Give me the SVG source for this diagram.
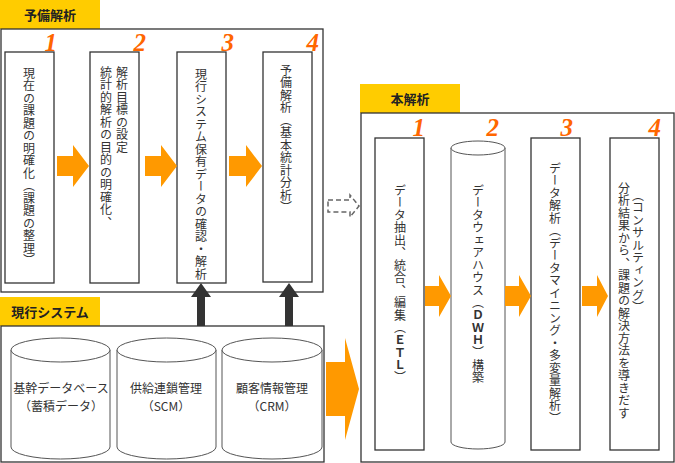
<svg xmlns="http://www.w3.org/2000/svg" width="675" height="463" viewBox="0 0 675 463">
<style>
text{font-family:"Noto Sans CJK JP","Liberation Sans",sans-serif;fill:#333}
.lab{font-size:13px;font-weight:bold;fill:#222}
.tag{fill:#ffcc00}
.frame{fill:#fff;stroke:#333;stroke-width:1.3}
.box{fill:#fff;stroke:#333;stroke-width:1.3}
.num{font-family:"Liberation Serif",serif;font-style:italic;font-weight:bold;font-size:25px;fill:#ff6600}
.v{writing-mode:vertical-rl;font-size:12px;letter-spacing:0.5px}
.cyl{fill:#fff;stroke:#555;stroke-width:1}
.oa{fill:#ff9900}
.h{font-size:12px;text-anchor:middle}
</style>
<g id="prelim">
<rect class="tag" x="0" y="0" width="100" height="29"/>
<text class="lab" x="50" y="20" text-anchor="middle">予備解析</text>
<rect class="frame" x="1" y="29" width="322" height="263"/>
</g>
<g id="main">
<rect class="tag" x="360" y="84" width="100" height="29"/>
<text class="lab" x="410" y="104" text-anchor="middle">本解析</text>
<rect class="frame" x="361" y="113" width="313" height="349"/>
</g>
<g id="current">
<rect class="tag" x="0" y="297" width="100" height="29"/>
<text class="lab" x="50" y="317" text-anchor="middle">現行システム</text>
<rect class="frame" x="1" y="326" width="323" height="136"/>
</g>
<g id="p1"><text class="num" x="57" y="51" text-anchor="end">1</text><rect class="box" x="5" y="52" width="49" height="231"/><text class="v" x="29" y="67">現在の課題の明確化（課題の整理）</text></g>
<g id="p2"><text class="num" x="146" y="51" text-anchor="end">2</text><rect class="box" x="90" y="52" width="49" height="231"/><text class="v" x="122" y="66">解析目標の設定</text><text class="v" x="106" y="66">統計的解析の目的の明確化、</text></g>
<g id="p3"><text class="num" x="234" y="51" text-anchor="end">3</text><rect class="box" x="177" y="52" width="49" height="231"/><text class="v" x="201" y="68">現行システム保有データの確認・解析</text></g>
<g id="p4"><text class="num" x="319" y="51" text-anchor="end">4</text><rect class="box" x="263" y="52" width="49" height="230"/><text class="v" x="286" y="64">予備解析（基本統計分析）</text></g>
<g id="m1"><text class="num" x="425" y="136" text-anchor="end">1</text><rect class="box" x="375" y="138" width="49" height="312"/><text class="v" x="400" y="184">データ抽出、統合、編集（<tspan font-weight="bold">ＥＴＬ</tspan>）</text></g>
<g id="m2"><text class="num" x="499" y="136" text-anchor="end">2</text>
<path class="cyl" d="M451,148 V442 A27,7 0 0 0 505,442 V148"/><ellipse class="cyl" cx="478" cy="148" rx="27" ry="7"/>
<text class="v" x="478" y="184">データウェアハウス（<tspan font-weight="bold">ＤＷＨ</tspan>）構築</text></g>
<g id="m3"><text class="num" x="573" y="136" text-anchor="end">3</text><rect class="box" x="531" y="138" width="49" height="312"/><text class="v" x="555" y="162">データ解析（データマイニング・多変量解析）</text></g>
<g id="m4"><text class="num" x="661" y="136" text-anchor="end">4</text><rect class="box" x="610" y="138" width="49" height="312"/><text class="v" x="638" y="189">（コンサルティング）</text><text class="v" x="624" y="182">分析結果から、課題の解決方法を導きだす</text></g>
<g id="s1"><path class="cyl" d="M11,350 V447 A49.5,12 0 0 0 110,447 V350"/><ellipse class="cyl" cx="60.5" cy="350" rx="49.5" ry="12"/><text class="h" x="61" y="393">基幹データベース</text><text class="h" x="61" y="411">（蓄積データ）</text></g>
<g id="s2"><path class="cyl" d="M117,350 V447 A49.5,12 0 0 0 216,447 V350"/><ellipse class="cyl" cx="166.5" cy="350" rx="49.5" ry="12"/><text class="h" x="166" y="393">供給連鎖管理</text><text class="h" x="166" y="411">（SCM）</text></g>
<g id="s3"><path class="cyl" d="M222,350 V447 A50,12 0 0 0 322,447 V350"/><ellipse class="cyl" cx="272" cy="350" rx="50" ry="12"/><text class="h" x="272" y="393">顧客情報管理</text><text class="h" x="272" y="411">（CRM）</text></g>
<g id="connectors">
<path class="oa" d="M57,156 H73 V145 L89,166 L73,187 V176 H57Z"/>
<path class="oa" d="M145,156 H161 V145 L177,166 L161,187 V176 H145Z"/>
<path class="oa" d="M229,156 H246 V145 L262,166 L246,187 V176 H229Z"/>
<path class="oa" d="M425,286 H439 V275 L451,296 L439,317 V306 H425Z"/>
<path class="oa" d="M505,286 H519 V275 L531,296 L519,317 V306 H505Z"/>
<path class="oa" d="M582,286 H597 V275 L608,296 L597,317 V306 H582Z"/>
<path class="oa" d="M326,362 H345 V338 L359,389 L345,440 V416 H326Z"/>
<path d="M328,200 H350 V195 L359,206 L350,217 V212 H328Z" fill="none" stroke="#666" stroke-width="1.5" stroke-dasharray="5,3"/>
<path d="M197,326 V297 H191 L201,283 L211,297 H205 V326Z" fill="#333"/>
<path d="M285,326 V297 H279 L289,283 L299,297 H293 V326Z" fill="#333"/>
</g>
</svg>
